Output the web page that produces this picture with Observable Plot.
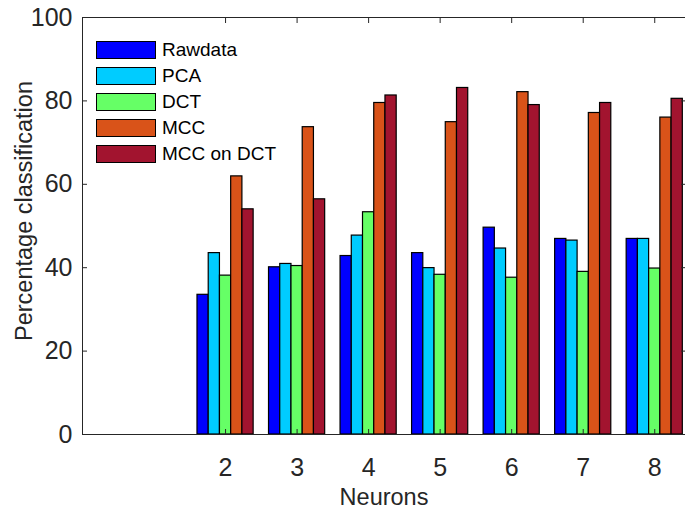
<!DOCTYPE html>
<html><head><meta charset="utf-8">
<script src="https://cdn.jsdelivr.net/npm/d3@7"></script>
<script src="https://cdn.jsdelivr.net/npm/@observablehq/plot@0.6"></script>
<style>
body{margin:0;background:#fff;}
#wrap{position:relative;width:685px;height:512px;font-family:"Liberation Sans",Arial,Helvetica,sans-serif;}
#legend{position:absolute;left:96px;top:41px;}
.row{display:flex;align-items:center;height:18px;margin-bottom:8px;}
.sw{width:60px;height:18px;box-sizing:border-box;border:1.5px solid #000;}
.lab{margin-left:6px;font-size:19px;color:#000;line-height:18px;}
</style></head><body><div id="wrap"><div id="legend"></div></div>
<script>
const neurons = [2, 3, 4, 5, 6, 7, 8];
const methods = ["Rawdata", "PCA", "DCT", "MCC", "MCC on DCT"];
const colors = ["#0000ff", "#00ccff", "#66ff66", "#d95319", "#a2142f"];
const rawdata = [33.5, 40.1, 42.8, 43.5, 49.6, 46.9, 46.9];
const pca     = [43.5, 40.9, 47.7, 39.9, 44.6, 46.5, 46.9];
const dct     = [38.1, 40.4, 53.3, 38.3, 37.6, 39.0, 39.8];
const mcc     = [61.9, 73.7, 79.5, 74.9, 82.1, 77.1, 76.0];
const mccDct  = [54.0, 56.4, 81.3, 83.1, 79.0, 79.5, 80.5];
const yTicks = [0, 20, 40, 60, 80, 100];

const series = [rawdata, pca, dct, mcc, mccDct];
const barW = 0.157;
const table = [];
series.forEach((vals, i) => {
  vals.forEach((v, j) => {
    const c = neurons[j] + (i - 2) * barW;
    table.push({neuron: neurons[j], method: methods[i], value: v, x1: c - barW / 2, x2: c + barW / 2});
  });
});

const font = '"Liberation Sans", Arial, Helvetica, sans-serif';
const chart = Plot.plot({
  width: 685, height: 512,
  marginLeft: 82, marginRight: 0, marginTop: 17, marginBottom: 78,
  style: {fontFamily: font, color: "#262626", background: "white", overflow: "visible"},
  x: {type: "linear", domain: [0, 8.43]},
  y: {domain: [0, 100]},
  color: {domain: methods, range: colors},
  marks: [
    Plot.rect(table, {x1: "x1", x2: "x2", y1: 0, y2: "value", fill: "method", stroke: "#000", strokeWidth: 1.2}),
    Plot.frame({stroke: "#262626"}),
    Plot.axisX({anchor: "bottom", ticks: neurons, tickSize: -5, tickPadding: 29, fontSize: 25, tickFormat: d => String(d), label: null}),
    Plot.axisX({anchor: "top", ticks: neurons, tickSize: -5, tickFormat: () => "", label: null}),
    Plot.axisY({anchor: "left", ticks: yTicks, tickSize: -5, tickPadding: 15, fontSize: 25, tickFormat: d => String(d), label: null}),
    Plot.axisY({anchor: "right", ticks: yTicks, tickSize: -5, tickFormat: () => "", label: null}),
    Plot.text(["Neurons"], {text: d => d, frameAnchor: "bottom", lineAnchor: "top", dy: 54, fontSize: 23.5, fill: "#262626"}),
    Plot.text(["Percentage classification"], {text: d => d, frameAnchor: "left", textAnchor: "middle", lineAnchor: "middle", rotate: -90, dx: -58.5, dy: -15, fontSize: 23.5, fill: "#262626"})
  ]
});
const wrap = document.getElementById("wrap");
wrap.insertBefore(chart, wrap.firstChild);

const legend = document.getElementById("legend");
methods.forEach((m, i) => {
  const row = document.createElement("div");
  row.className = "row";
  const sw = document.createElement("div");
  sw.className = "sw";
  sw.style.background = colors[i];
  const lab = document.createElement("span");
  lab.className = "lab";
  lab.textContent = m;
  row.appendChild(sw);
  row.appendChild(lab);
  legend.appendChild(row);
});
</script></body></html>
